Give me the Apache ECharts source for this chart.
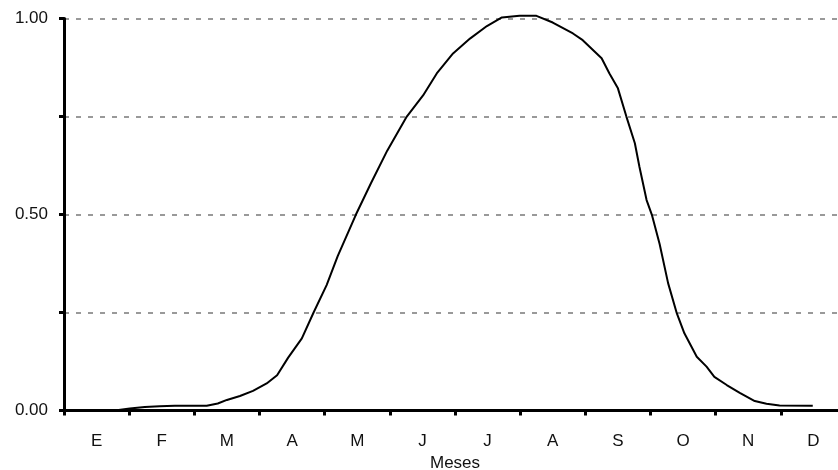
<!DOCTYPE html>
<html>
<head>
<meta charset="utf-8">
<script src="https://cdn.jsdelivr.net/npm/echarts@6/dist/echarts.min.js"></script>
<style>
  html, body { margin: 0; padding: 0; background: #fff; }
  #chart { width: 838px; height: 470px; }
</style>
</head>
<body>
<div id="chart"></div>
<script>
// Month initials, labelled at the middle of each month
var monthLabels = ['E', 'F', 'M', 'A', 'M', 'J', 'J', 'A', 'S', 'O', 'N', 'D'];
var monthStarts = [0, 1, 2, 3, 4, 5, 6, 7, 8, 9, 10, 11];
var monthCentres = [0.5, 1.5, 2.5, 3.5, 4.5, 5.5, 6.5, 7.5, 8.5, 9.5, 10.5, 11.5];

// Position in the year (months from 1 January) of each sample
var timeInMonths = [
  0.78, 1.01, 1.24, 1.47, 1.70, 1.93, 2.19, 2.36, 2.50, 2.70, 2.90, 3.11, 3.27,
  3.44, 3.65, 3.83, 4.03, 4.20, 4.48, 4.71, 4.96, 5.26, 5.51, 5.72, 5.97, 6.23,
  6.49, 6.72, 6.99, 7.25, 7.50, 7.81, 7.96, 8.25, 8.37, 8.50, 8.63, 8.76, 8.83,
  8.94, 9.02, 9.14, 9.27, 9.40, 9.52, 9.71, 9.86, 9.98, 10.17, 10.37, 10.60,
  10.78, 10.98, 11.49
];
// Relative index (0 to 1)
var indexValues = [
  0.000, 0.005, 0.009, 0.011, 0.012, 0.012, 0.012, 0.018, 0.027, 0.037, 0.050, 0.069, 0.090,
  0.135, 0.184, 0.250, 0.320, 0.394, 0.500, 0.580, 0.663, 0.750, 0.804, 0.860, 0.911, 0.949,
  0.981, 1.003, 1.007, 1.007, 0.990, 0.962, 0.945, 0.899, 0.860, 0.822, 0.750, 0.682, 0.622,
  0.537, 0.500, 0.425, 0.325, 0.250, 0.197, 0.137, 0.112, 0.086, 0.065, 0.045, 0.024,
  0.017, 0.013, 0.012
];
var yTickLabels = { '0': '0.00', '0.5': '0.50', '1': '1.00' };

var points = timeInMonths.map(function (t, i) { return [t, indexValues[i]]; });

var font = 'Liberation Sans, Arial, sans-serif';
var chart = echarts.init(document.getElementById('chart'), null, { renderer: 'canvas' });
chart.setOption({
  animation: false,
  backgroundColor: '#ffffff',
  grid: {
    left: 64, top: 18.6, width: 782, height: 391.9,
    containLabel: false,
    outerBoundsMode: 'none'
  },
  xAxis: {
    type: 'value',
    min: 0,
    max: 12,
    name: 'Meses',
    nameLocation: 'middle',
    nameGap: 43,
    nameTextStyle: { color: '#111', fontSize: 17, fontFamily: font },
    axisLine: { show: true, onZero: false, lineStyle: { color: '#000', width: 3 } },
    axisTick: { show: true, length: 5, customValues: monthStarts, lineStyle: { color: '#000', width: 3 } },
    axisLabel: {
      customValues: monthCentres,
      margin: 22,
      color: '#111',
      fontSize: 17,
      fontFamily: font,
      formatter: function (v) { return monthLabels[Math.floor(v)]; }
    },
    splitLine: { show: false }
  },
  yAxis: {
    type: 'value',
    min: 0,
    max: 1,
    interval: 0.25,
    axisLine: { show: true, lineStyle: { color: '#000', width: 3 } },
    axisTick: { show: true, length: 5, lineStyle: { color: '#000', width: 3 } },
    axisLabel: {
      margin: 16,
      color: '#111',
      fontSize: 17,
      fontFamily: font,
      formatter: function (v) { return yTickLabels[String(v)] || ''; }
    },
    splitLine: { show: true, lineStyle: { color: '#999', width: 2, type: [5, 7] } }
  },
  series: [{
    type: 'line',
    data: points,
    smooth: false,
    showSymbol: false,
    lineStyle: { color: '#000', width: 2 },
    clip: false
  }]
});
</script>
</body>
</html>
